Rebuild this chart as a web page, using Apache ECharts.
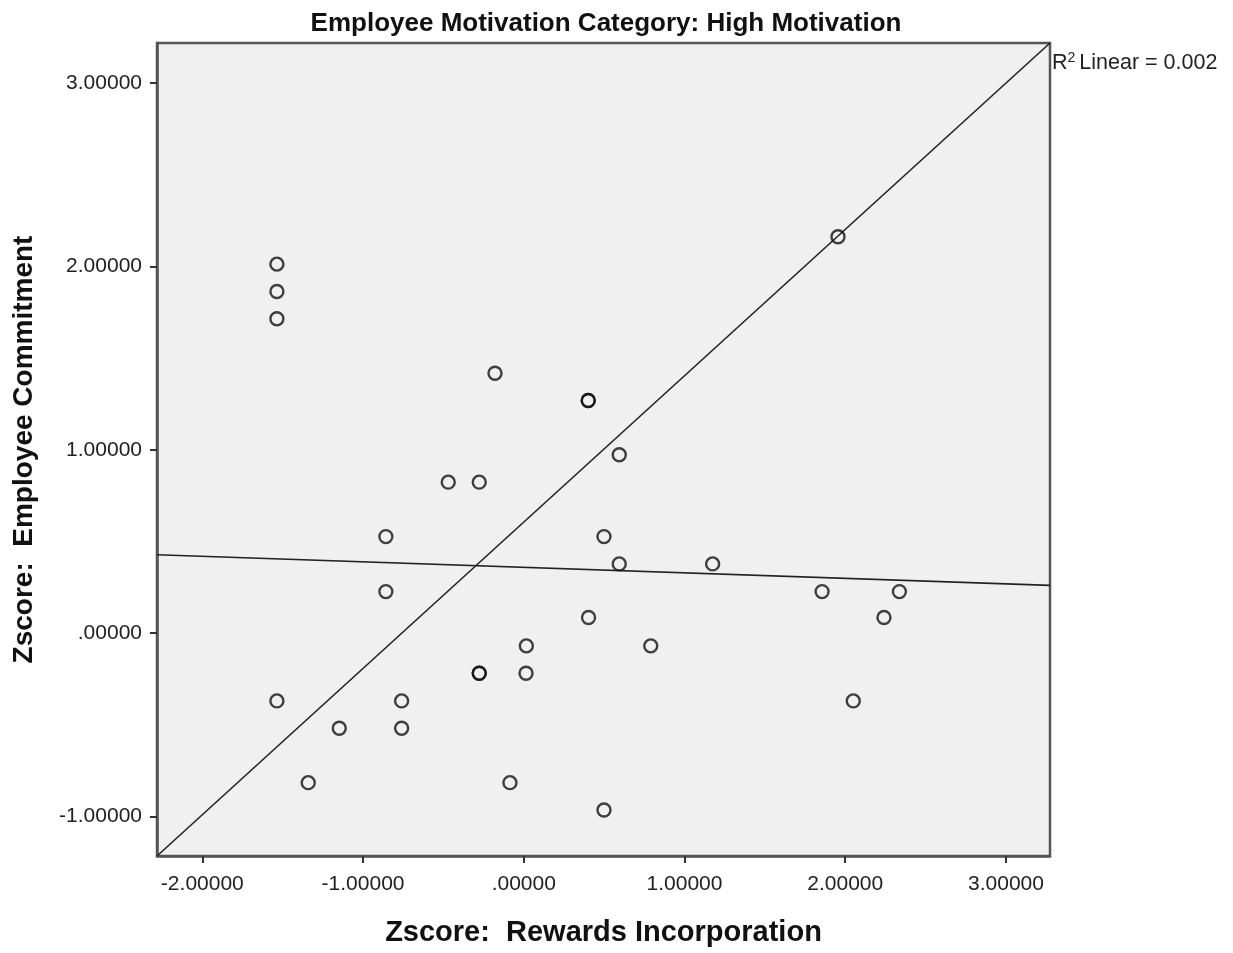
<!DOCTYPE html>
<html>
<head>
<meta charset="utf-8">
<script src="https://cdn.jsdelivr.net/npm/echarts@6/dist/echarts.min.js"></script>
<style>
html,body{margin:0;padding:0;background:#fff;}
#chart{width:1233px;height:953px;}
</style>
</head>
<body>
<div id="chart"></div>
<script>
// ---- data ----
const chartTitle = 'Employee Motivation Category: High Motivation';
const xAxisTitle = 'Zscore:  Rewards Incorporation';
const yAxisTitle = 'Zscore:  Employee Commitment';
const r2Text = 'Linear = 0.002';

const xTicks = [-2, -1, 0, 1, 2, 3];
const yTicks = [-1, 0, 1, 2, 3];
const xRange = [-2.282, 3.274];
const yRange = [-1.215, 3.219];

const rewardsZ = [
  -1.536, -1.536, -1.536, 1.955, -0.179, 0.401, 0.401, 0.594,
  -0.470, -0.277, -0.858, 0.499, 0.594, 1.175, -0.858, 1.856,
  2.337, 0.403, 2.241, 0.016, 0.790, -0.277, -0.277, 0.014,
  -1.536, -0.760, 2.050, -1.148, -0.760, -1.341, -0.086, 0.499
];
const commitmentZ = [
  2.013, 1.864, 1.715, 2.162, 1.418, 1.269, 1.269, 0.973,
  0.824, 0.824, 0.527, 0.527, 0.378, 0.378, 0.227, 0.227,
  0.227, 0.086, 0.086, -0.069, -0.069, -0.218, -0.218, -0.218,
  -0.369, -0.369, -0.369, -0.518, -0.518, -0.815, -0.815, -0.964
];
// linear fit line endpoints
const fitX = [-2.282, 3.274];
const fitY = [0.428, 0.261];
// corner-to-corner reference line
const refX = [-2.282, 3.274];
const refY = [-1.215, 3.219];

// ---- build ----
const points = rewardsZ.map((x, i) => [x, commitmentZ[i]]);
const fitLine = fitX.map((x, i) => [x, fitY[i]]);
const refLine = refX.map((x, i) => [x, refY[i]]);

function fmt(v) {
  if (Math.abs(v) < 1e-9) return '.00000';
  return v.toFixed(5);
}

const font = "'Liberation Sans', Arial, sans-serif";
const chart = echarts.init(document.getElementById('chart'), null, {renderer: 'canvas'});
chart.setOption({
  animation: false,
  backgroundColor: '#ffffff',
  title: {
    text: chartTitle,
    left: 601, top: 6, textAlign: 'center',
    textStyle: {fontFamily: font, fontWeight: 'bold', fontSize: 26, color: '#111'}
  },
  grid: {
    left: 157, right: 183, top: 43, bottom: 97,
    containLabel: false, outerBoundsMode: 'none',
    show: true, backgroundColor: '#f0f0f0', borderColor: '#555', borderWidth: 2.5
  },
  xAxis: {
    type: 'value', min: xRange[0], max: xRange[1],
    name: xAxisTitle, nameLocation: 'middle', nameGap: 62,
    nameTextStyle: {fontFamily: font, fontWeight: 'bold', fontSize: 29, color: '#111'},
    axisLine: {show: true, onZero: false, lineStyle: {color: '#555', width: 2.5}},
    axisTick: {show: true, length: 7, customValues: xTicks, lineStyle: {color: '#333', width: 2}},
    axisLabel: {customValues: xTicks, formatter: fmt, margin: 18, fontFamily: font, fontSize: 21, color: '#222'},
    splitLine: {show: false}
  },
  yAxis: {
    type: 'value', min: yRange[0], max: yRange[1],
    name: yAxisTitle, nameLocation: 'middle', nameGap: 119,
    nameTextStyle: {fontFamily: font, fontWeight: 'bold', fontSize: 28, color: '#111'},
    axisLine: {show: true, onZero: false, lineStyle: {color: '#555', width: 2.5}},
    axisTick: {show: true, length: 7, customValues: yTicks, lineStyle: {color: '#333', width: 2}},
    axisLabel: {customValues: yTicks, formatter: fmt, margin: 15, fontFamily: font, fontSize: 21, color: '#222'},
    splitLine: {show: false}
  },
  graphic: [{
    type: 'text', left: 1052, top: 51,
    style: {
      rich: {
        a: {fontFamily: font, fontSize: 21.5, fill: '#222', color: '#222'},
        s: {fontFamily: font, fontSize: 14, fill: '#222', color: '#222', padding: [0, 4, 11, 0]}
      },
      text: '{a|R}{s|2}{a|' + r2Text + '}'
    }
  }],
  series: [
    {
      type: 'line', data: refLine, symbol: 'none', silent: true,
      lineStyle: {color: '#222', width: 1.6}, z: 2
    },
    {
      type: 'line', data: fitLine, symbol: 'none', silent: true,
      lineStyle: {color: '#222', width: 1.6}, z: 2
    },
    {
      type: 'scatter', data: points, symbol: 'circle', symbolSize: 13,
      itemStyle: {color: 'rgba(0,0,0,0)', borderColor: '#111', borderWidth: 2.4}, z: 3
    }
  ]
});
</script>
</body>
</html>
